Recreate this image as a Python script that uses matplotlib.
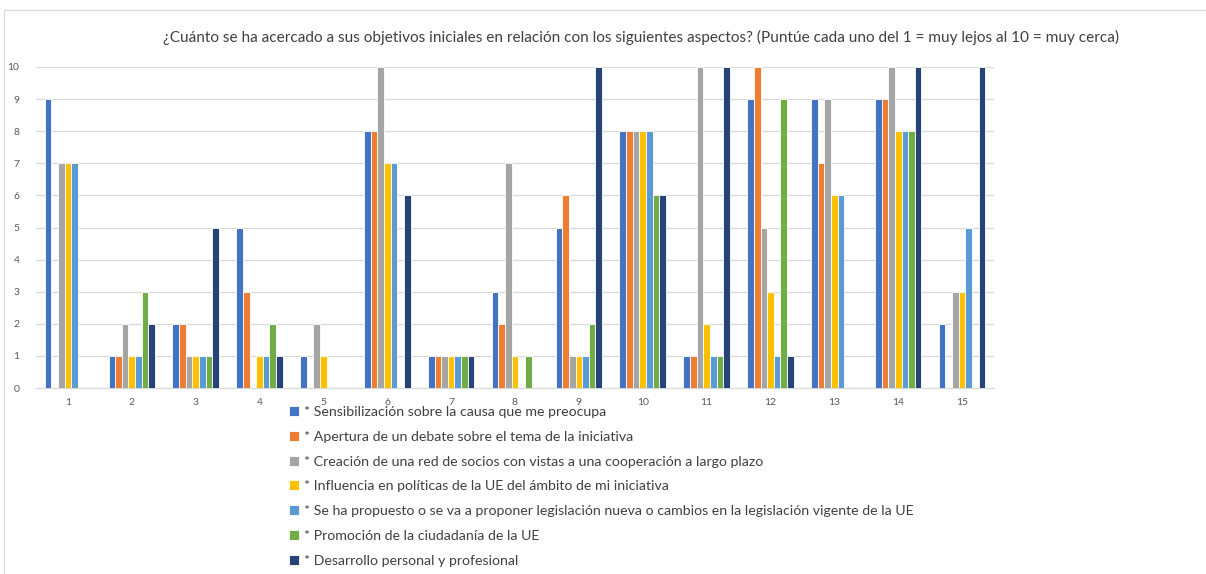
import matplotlib
matplotlib.use("Agg")
import matplotlib.pyplot as plt
import numpy as np
from matplotlib.patches import Rectangle

plt.rcParams['font.family'] = ['Lato', 'DejaVu Sans']

categories = [str(i) for i in range(1, 16)]
series_names = [
    "* Sensibilización sobre la causa que me preocupa",
    "* Apertura de un debate sobre el tema de la iniciativa",
    "* Creación de una red de socios con vistas a una cooperación a largo plazo",
    "* Influencia en políticas de la UE del ámbito de mi iniciativa",
    "* Se ha propuesto o se va a proponer legislación nueva o cambios en la legislación vigente de la UE",
    "* Promoción de la ciudadanía de la UE",
    "* Desarrollo personal y profesional",
]
s1 = [9, 1, 2, 5, 1, 8, 1, 3, 5, 8, 1, 9, 9, 9, 2]
s2 = [0, 1, 2, 3, 0, 8, 1, 2, 6, 8, 1, 10, 7, 9, 0]
s3 = [7, 2, 1, 0, 2, 10, 1, 7, 1, 8, 10, 5, 9, 10, 3]
s4 = [7, 1, 1, 1, 1, 7, 1, 1, 1, 8, 2, 3, 6, 8, 3]
s5 = [7, 1, 1, 1, 0, 7, 1, 0, 1, 8, 1, 1, 6, 8, 5]
s6 = [0, 3, 1, 2, 0, 0, 1, 1, 2, 6, 1, 9, 0, 8, 0]
s7 = [0, 2, 5, 1, 0, 6, 1, 0, 10, 6, 10, 1, 0, 10, 10]
series = [s1, s2, s3, s4, s5, s6, s7]
colors = ["#4472C4", "#ED7D31", "#A5A5A5", "#FFC000", "#5B9BD5", "#70AD47", "#264478"]
title = "¿Cuánto se ha acercado a sus objetivos iniciales en relación con los siguientes aspectos? (Puntúe cada uno del 1 = muy lejos al 10 = muy cerca)"

W, H = 1206, 574
fig = plt.figure(figsize=(W / 100, H / 100), dpi=100)
ax = fig.add_axes([36 / W, 1 - 388 / H, (994 - 36) / W, (388 - 67) / H])

x = np.arange(len(categories))
n = len(series)
bw = 0.104
for i, (vals, c, name) in enumerate(zip(series, colors, series_names)):
    ax.bar(x + (i - (n - 1) / 2) * bw, vals, width=bw, color=c, label=name,
           edgecolor="white", linewidth=0.6, zorder=3)

ax.set_xlim(-0.5, len(categories) - 0.5)
ax.set_ylim(0, 10)
ax.set_yticks(range(0, 11))
ax.set_xticks(x)
ax.set_xticklabels(categories)
ax.tick_params(axis='both', length=0, labelsize=7.5, colors="#595959")
ax.tick_params(axis='y', pad=12)
ax.tick_params(axis='x', pad=7)
ax.grid(axis='y', color="#D9D9D9", linewidth=0.9, zorder=0)
for sp in ["top", "right", "left"]:
    ax.spines[sp].set_visible(False)
ax.spines["bottom"].set_color("#D9D9D9")
ax.spines["bottom"].set_linewidth(0.9)

fig.text(641 / W, 1 - 37 / H, title, ha="center", va="center", fontsize=11.1, color="#404040")

fig.legend(loc="upper left", bbox_to_anchor=(282 / W, 1 - 399 / H), frameon=False,
           fontsize=10.2, handlelength=0.7, handleheight=0.7, handletextpad=0.35,
           labelspacing=0.9, labelcolor="#404040", borderpad=0)

fig.patches.append(Rectangle((4 / W, -0.05), 1.1, 1 - 10 / H + 0.05, transform=fig.transFigure,
                             fill=False, edgecolor="#D9D9D9", linewidth=0.9))

fig.savefig("out.png", dpi=100)
